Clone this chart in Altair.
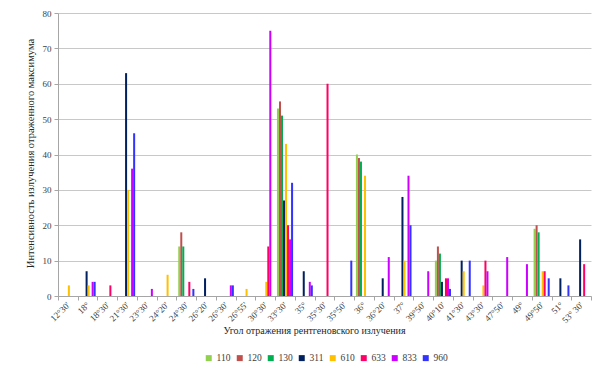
import altair as alt
import pandas as pd

categories = ["12°30'", "18°", "18°30'", "21°30'", "23°30'", "24°20'", "24°30'",
              "26°20'", "26°30'", "26°55'", "30°30'", "33°30'", "35°", "35°30'",
              "35°50'", "36°", "36°20'", "37°", "39°50'", "40°10'", "41°30'",
              "43°30'", "47°50'", "49°", "49°50'", "51°", "53° 30'"]

series = ["110", "120", "130", "311", "610", "633", "833", "960"]
colors = ["#92D050", "#C0504D", "#00B050", "#002060", "#FFC000", "#FF0066", "#CC00FF", "#3333FF"]

N = None
v110 = [N, N, N, N, N, N, 14, N, N, N, N, 53, N, N, N, 40, N, N, N, 10, N, N, N, N, 19, N, N]
v120 = [N, N, N, N, N, N, 18, N, N, N, N, 55, N, N, N, 39, N, N, N, 14, N, N, N, N, 20, N, N]
v130 = [N, N, N, N, N, N, 14, N, N, N, N, 51, N, N, N, 38, N, N, N, 12, N, N, N, N, 18, N, N]
v311 = [N, 7, N, 63, N, N, N, 5, N, N, N, 27, 7, N, N, N, 5, 28, N, 4, 10, N, N, N, N, 5, 16]
v610 = [3, 3, N, 30, N, 6, N, N, N, 2, 4, 43, N, N, N, 34, N, 10, N, N, 7, 3, N, N, 7, N, N]
v633 = [N, N, 3, N, N, N, 4, N, N, N, 14, 20, N, 60, N, N, N, N, N, 5, N, 10, N, N, 7, N, 9]
v833 = [N, 4, N, 36, 2, N, N, N, 3, N, 75, 16, 4, N, N, N, 11, 34, 7, 5, N, 7, 11, 9, N, N, N]
v960 = [N, 4, N, 46, N, N, 2, N, 3, N, N, 32, 3, N, 10, N, N, 20, N, 2, 10, N, N, N, 5, 3, N]

values = [v110, v120, v130, v311, v610, v633, v833, v960]

rows = []
for s, vals in zip(series, values):
    assert len(vals) == len(categories)
    for c, v in zip(categories, vals):
        if v is not None:
            rows.append({"angle": c, "series": s, "value": v})
df = pd.DataFrame(rows)

font = "Liberation Serif"

chart = alt.Chart(df).mark_bar().encode(
    x=alt.X("angle:N", sort=categories,
            scale=alt.Scale(domain=categories, paddingInner=0, paddingOuter=0),
            axis=alt.Axis(title="Угол отражения рентгеновского излучения",
                          labelAngle=-45, labelAlign="right", labelBaseline="middle",
                          labelPadding=3, tickBand="extent", tickSize=4,
                          domainColor="#A6A6A6", tickColor="#A6A6A6",
                          labelFont=font, labelFontSize=9, labelColor="#404040",
                          titleFont=font, titleFontSize=10, titleFontWeight="normal",
                          titleColor="#262626", titleX=256, titleY=34,
                          titleBaseline="middle", titleAlign="center",
                          grid=False)),
    xOffset=alt.XOffset("series:N", sort=series,
                        scale=alt.Scale(domain=series, paddingInner=0, paddingOuter=0.9)),
    y=alt.Y("value:Q", scale=alt.Scale(domain=[0, 80]),
            axis=alt.Axis(title="Интенсивность излучения отраженного максимума",
                          values=list(range(0, 81, 10)), tickSize=4,
                          domainColor="#A6A6A6", tickColor="#A6A6A6",
                          gridColor="#C8C8C8", labelPadding=3,
                          labelFont=font, labelFontSize=9, labelColor="#404040",
                          titleFont=font, titleFontSize=10.5, titleFontWeight="normal",
                          titleColor="#262626", titleX=-28, titleY=140,
                          titleBaseline="middle", titleAlign="center")),
    color=alt.Color("series:N", sort=series,
                    scale=alt.Scale(domain=series, range=colors),
                    legend=alt.Legend(title=None, orient="none", direction="horizontal",
                                      legendX=146, legendY=340, padding=0,
                                      symbolType="square", symbolSize=36,
                                      symbolStrokeWidth=0, labelOffset=3,
                                      columnPadding=4,
                                      labelFont=font, labelFontSize=9.5,
                                      labelColor="#404040"))
).properties(
    width=533, height=283,
    autosize=alt.AutoSizeParams(type="none"),
    padding={"left": 50, "top": 5, "right": 1, "bottom": 68}
).configure_view(stroke=None)

chart.save("out.html", embed_options={"renderer": "svg", "actions": False})
